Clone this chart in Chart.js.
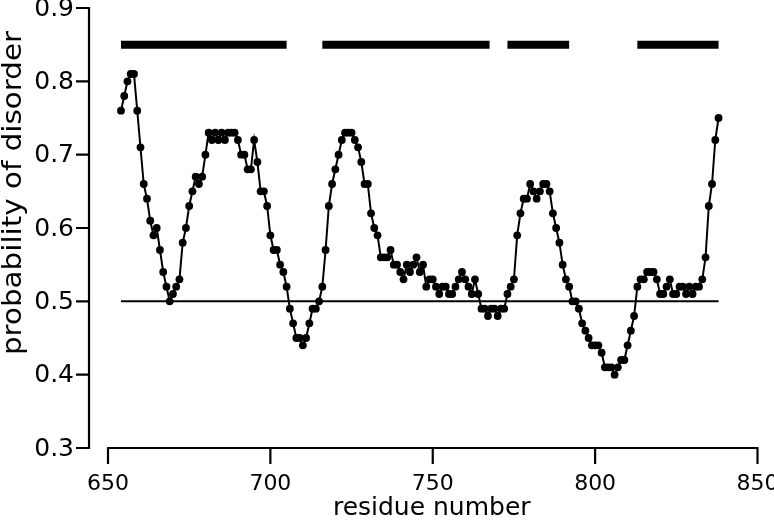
<!DOCTYPE html>
<html>
<head>
<meta charset="utf-8">
<script src="https://cdn.jsdelivr.net/npm/chart.js@4"></script>
<style>
html,body{margin:0;padding:0;background:#fff;}
#wrap{width:774px;height:521px;}
</style>
</head>
<body>
<div id="wrap"><canvas id="c" width="774" height="521"></canvas></div>
<script>
const residues = [654,655,656,657,658,659,660,661,662,663,664,665,666,667,668,669,670,671,672,673,674,675,676,677,678,679,680,
681,682,683,684,685,686,687,688,689,690,691,692,693,694,695,696,697,698,699,700,701,702,703,704,705,706,707,708,709,710,
711,712,713,714,715,716,717,718,719,720,721,722,723,724,725,726,727,728,729,730,731,732,733,734,735,736,737,738,739,740,
741,742,743,744,745,746,747,748,749,750,751,752,753,754,755,756,757,758,759,760,761,762,763,764,765,766,767,768,769,770,
771,772,773,774,775,776,777,778,779,780,781,782,783,784,785,786,787,788,789,790,791,792,793,794,795,796,797,798,799,800,
801,802,803,804,805,806,807,808,809,810,811,812,813,814,815,816,817,818,819,820,821,822,823,824,825,826,827,828,829,830,
831,832,833,834,835,836,837,838];
const disorder = [0.76,0.78,0.80,0.81,0.81,0.76,0.71,0.66,0.64,0.61,0.59,0.60,0.57,0.54,0.52,0.50,0.51,0.52,0.53,0.58,0.60,0.63,0.65,0.67,0.66,0.67,0.70,
0.73,0.72,0.73,0.72,0.73,0.72,0.73,0.73,0.73,0.72,0.70,0.70,0.68,0.68,0.72,0.69,0.65,0.65,0.63,0.59,0.57,0.57,0.55,0.54,0.52,0.49,0.47,0.45,0.45,0.44,
0.45,0.47,0.49,0.49,0.50,0.52,0.57,0.63,0.66,0.68,0.70,0.72,0.73,0.73,0.73,0.72,0.71,0.69,0.66,0.66,0.62,0.60,0.59,0.56,0.56,0.56,0.57,0.55,0.55,0.54,
0.53,0.55,0.54,0.55,0.56,0.54,0.55,0.52,0.53,0.53,0.52,0.51,0.52,0.52,0.51,0.51,0.52,0.53,0.54,0.53,0.52,0.51,0.53,0.51,0.49,0.49,0.48,0.49,0.49,0.48,
0.49,0.49,0.51,0.52,0.53,0.59,0.62,0.64,0.64,0.66,0.65,0.64,0.65,0.66,0.66,0.65,0.62,0.60,0.58,0.55,0.53,0.52,0.50,0.50,0.49,0.47,0.46,0.45,0.44,0.44,
0.44,0.43,0.41,0.41,0.41,0.40,0.41,0.42,0.42,0.44,0.46,0.48,0.52,0.53,0.53,0.54,0.54,0.54,0.53,0.51,0.51,0.52,0.53,0.51,0.51,0.52,0.52,0.51,0.52,0.51,
0.52,0.52,0.53,0.56,0.63,0.66,0.72,0.75];
const threshold = 0.5;
const thresholdRange = [654, 838];
const segmentLevel = 0.85;
const segmentStarts = [654, 716, 773, 813];
const segmentEnds = [705, 767.5, 792, 838];
const xTicks = [650, 700, 750, 800, 850];
const yTicks = [0.3, 0.4, 0.5, 0.6, 0.7, 0.8, 0.9];
const xTitle = 'residue number';
const yTitle = 'probability of disorder';

const datasets = [];
datasets.push({
  data: residues.map((r, i) => ({x: r, y: disorder[i]})),
  showLine: true, borderColor: '#000', borderWidth: 2,
  pointRadius: 3.9, pointBackgroundColor: '#000', pointBorderWidth: 0, pointHoverRadius: 3.9
});
datasets.push({
  data: [{x: thresholdRange[0], y: threshold}, {x: thresholdRange[1], y: threshold}],
  showLine: true, borderColor: '#000', borderWidth: 2, pointRadius: 0
});
segmentStarts.forEach((s, i) => {
  datasets.push({
    data: [{x: s, y: segmentLevel}, {x: segmentEnds[i], y: segmentLevel}],
    showLine: true, borderColor: '#000', borderWidth: 8, pointRadius: 0, borderCapStyle: 'butt'
  });
});

const axesPlugin = {
  id: 'rAxes',
  afterDraw(chart) {
    const ctx = chart.ctx;
    const xs = chart.scales.x, ys = chart.scales.y;
    const ca = chart.chartArea;
    ctx.save();
    ctx.strokeStyle = '#000';
    ctx.fillStyle = '#000';
    ctx.lineWidth = 2.2;
    // y axis
    const yx = ca.left - 19;
    ctx.beginPath();
    ctx.moveTo(yx, ys.getPixelForValue(yTicks[yTicks.length-1]) - 1);
    ctx.lineTo(yx, ys.getPixelForValue(yTicks[0]) + 1);
    yTicks.forEach(v => {
      const py = ys.getPixelForValue(v);
      ctx.moveTo(yx, py); ctx.lineTo(yx - 13, py);
    });
    ctx.stroke();
    ctx.font = '25px "DejaVu Sans"';
    ctx.textAlign = 'right'; ctx.textBaseline = 'middle';
    yTicks.forEach(v => {
      ctx.fillText(v.toFixed(1), yx - 15, ys.getPixelForValue(v) + 1);
    });
    // x axis
    const xy = ca.bottom;
    ctx.beginPath();
    ctx.moveTo(xs.getPixelForValue(xTicks[0]) - 1, xy);
    ctx.lineTo(xs.getPixelForValue(xTicks[xTicks.length-1]) + 1, xy);
    xTicks.forEach(v => {
      const px = xs.getPixelForValue(v);
      ctx.moveTo(px, xy); ctx.lineTo(px, xy + 16);
    });
    ctx.stroke();
    ctx.font = '22px "DejaVu Sans"';
    ctx.textAlign = 'center'; ctx.textBaseline = 'alphabetic';
    xTicks.forEach(v => {
      ctx.fillText(String(v), xs.getPixelForValue(v), 490);
    });
    // titles
    ctx.font = '25px "DejaVu Sans"';
    ctx.fillText(xTitle, (xs.getPixelForValue(xTicks[0]) + xs.getPixelForValue(xTicks[xTicks.length-1])) / 2 - 1, 515);
    ctx.save();
    ctx.translate(21, 193);
    ctx.rotate(-Math.PI / 2);
    ctx.scale(1.13, 1);
    ctx.font = '26px "DejaVu Sans"';
    ctx.textAlign = 'center'; ctx.textBaseline = 'alphabetic';
    ctx.fillText(yTitle, 0, 0);
    ctx.restore();
    ctx.restore();
  }
};

new Chart(document.getElementById('c'), {
  type: 'scatter',
  data: { datasets },
  options: {
    responsive: false, animation: false, devicePixelRatio: 1,
    layout: { padding: { left: 108, right: 16.5, top: 8, bottom: 73 } },
    plugins: { legend: { display: false }, tooltip: { enabled: false } },
    scales: {
      x: { type: 'linear', min: 650, max: 850, display: false },
      y: { type: 'linear', min: 0.3, max: 0.9, display: false }
    }
  },
  plugins: [axesPlugin]
});
</script>
</body>
</html>
